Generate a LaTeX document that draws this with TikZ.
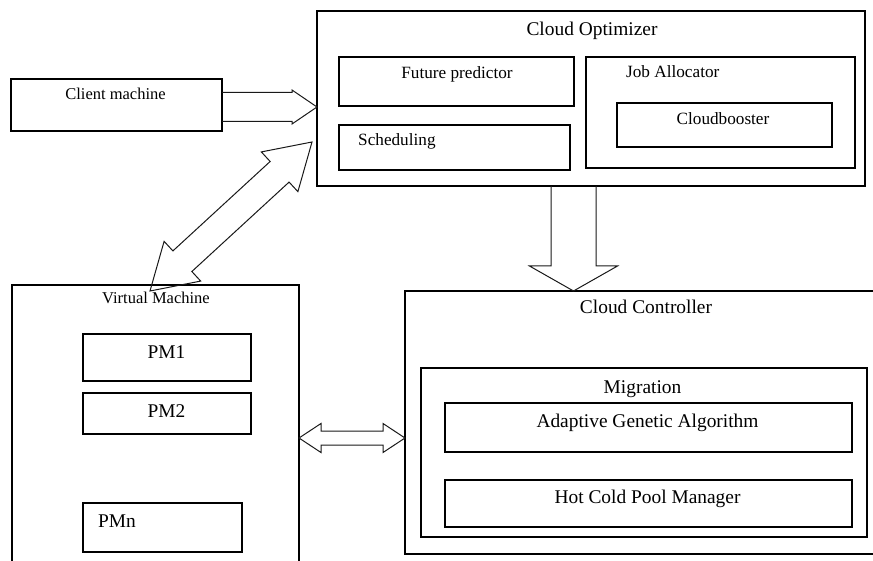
\documentclass[tikz,border=0pt]{standalone}
\usepackage{fontspec}
\setmainfont{Liberation Serif}
\usetikzlibrary{calc,fit}
\newcommand{\dblarrow}[6]{%
 \coordinate (#1a) at ($(#2)!#6!(#3)$);
 \coordinate (#1b) at ($(#3)!#6!(#2)$);
 \draw[arr] (#2) -- ($(#1a)!#5!90:(#3)$) -- ($(#1a)!#4!90:(#3)$) -- ($(#1b)!#4!-90:(#2)$) -- ($(#1b)!#5!-90:(#2)$) -- (#3) -- ($(#1b)!#5!90:(#2)$) -- ($(#1b)!#4!90:(#2)$) -- ($(#1a)!#4!-90:(#3)$) -- ($(#1a)!#5!-90:(#3)$) -- cycle;
}
\newcommand{\sglarrow}[6]{%
 \coordinate (#1b) at ($(#3)!#6!(#2)$);
 \draw[arr] ($(#2)!#4!90:(#3)$) -- ($(#1b)!#4!-90:(#2)$) -- ($(#1b)!#5!-90:(#2)$) -- (#3) -- ($(#1b)!#5!90:(#2)$) -- ($(#1b)!#4!90:(#2)$) -- ($(#2)!#4!-90:(#3)$);
}
\begin{document}
\begin{tikzpicture}[x=1pt,y=-1pt,
  box/.style={draw=black, line width=1.1pt, inner sep=0pt, outer sep=0pt},
  arr/.style={draw=black!90, line width=1pt, line join=miter},
  tA/.style={font=\fontsize{17.2pt}{20pt}\selectfont, inner sep=0pt, anchor=base, text=black},
  tB/.style={font=\fontsize{16.5pt}{19pt}\selectfont, inner sep=0pt, anchor=base, text=black},
  tC/.style={font=\fontsize{19.4pt}{22pt}\selectfont, inner sep=0pt, anchor=base, text=black}]
\useasboundingbox (0,0) rectangle (873,561);
\clip (0,0) rectangle (873,561);
% boxes
\node[box, fit={(317,11) (865,186)}] (opt) {};
\node[box, fit={(339,57) (574,106)}] (fut) {};
\node[box, fit={(339,125) (570,170)}] (sched) {};
\node[box, fit={(586,57) (855,168)}] (joba) {};
\node[box, fit={(617,103) (832,147)}] (cboost) {};
\node[box, fit={(11,79) (222,131)}] (client) {};
\node[box, fit={(12,285) (299,600)}] (vm) {};
\node[box, fit={(83,334) (251,381)}] (pm1) {};
\node[box, fit={(83,393) (251,434)}] (pm2) {};
\node[box, fit={(83,503) (242,552)}] (pmn) {};
\node[box, fit={(405,291) (890,554)}] (cc) {};
\node[box, fit={(421,368) (867,537)}] (mig) {};
\node[box, fit={(445,403) (852,452)}] (aga) {};
\node[box, fit={(445,480) (852,527)}] (hcpm) {};
% texts
\node[tC] (opt-t) at (592,36) {Cloud Optimizer};
\node[tA] (fut-t) at (457,79) {Future predictor};
\node[tA, anchor=base west] (sched-t) at (358,146) {Scheduling};
\node[tA, anchor=base west] (joba-t) at (626,78) {Job Allocator};
\node[tA] (cboost-t) at (723,125) {Cloudbooster};
\node[tB] (client-t) at (115.5,100) {Client machine};
\node[tB] (vm-t) at (156,304) {Virtual Machine};
\node[tC] (pm1-t) at (166.5,359) {PM1};
\node[tC] (pm2-t) at (166.5,417) {PM2};
\node[tC, anchor=base west] (pmn-t) at (98,527) {PMn};
\node[tC] (cc-t) at (646,314) {Cloud Controller};
\node[tC] (mig-t) at (642.5,393) {Migration};
\node[tC] (aga-t) at (647.5,427) {Adaptive Genetic Algorithm};
\node[tC] (hcpm-t) at (647.5,503) {Hot Cold Pool Manager};
% arrows
\coordinate (c1) at ($(client.east)+(0,2)$);
\coordinate (c2) at (c1 -| opt.west);
\sglarrow{ca}{c1}{c2}{14.5pt}{17pt}{25pt}
\coordinate (d1) at ($(opt.south)+(-17.5,0)$);
\coordinate (d2) at (d1 |- cc.north);
\sglarrow{da}{d1}{d2}{22.5pt}{44pt}{25pt}
\coordinate (h1) at ($(vm.east |- pm2.south)+(0,4)$);
\coordinate (h2) at (h1 -| cc.west);
\dblarrow{ha}{h1}{h2}{7pt}{14.5pt}{22pt}
\coordinate (g1) at ($(vm.north west)+(138,6)$);
\coordinate (g2) at ($(opt.south west)+(-5,-44)$);
\dblarrow{ga}{g1}{g2}{14pt}{27pt}{44pt}
\end{tikzpicture}
\end{document}
